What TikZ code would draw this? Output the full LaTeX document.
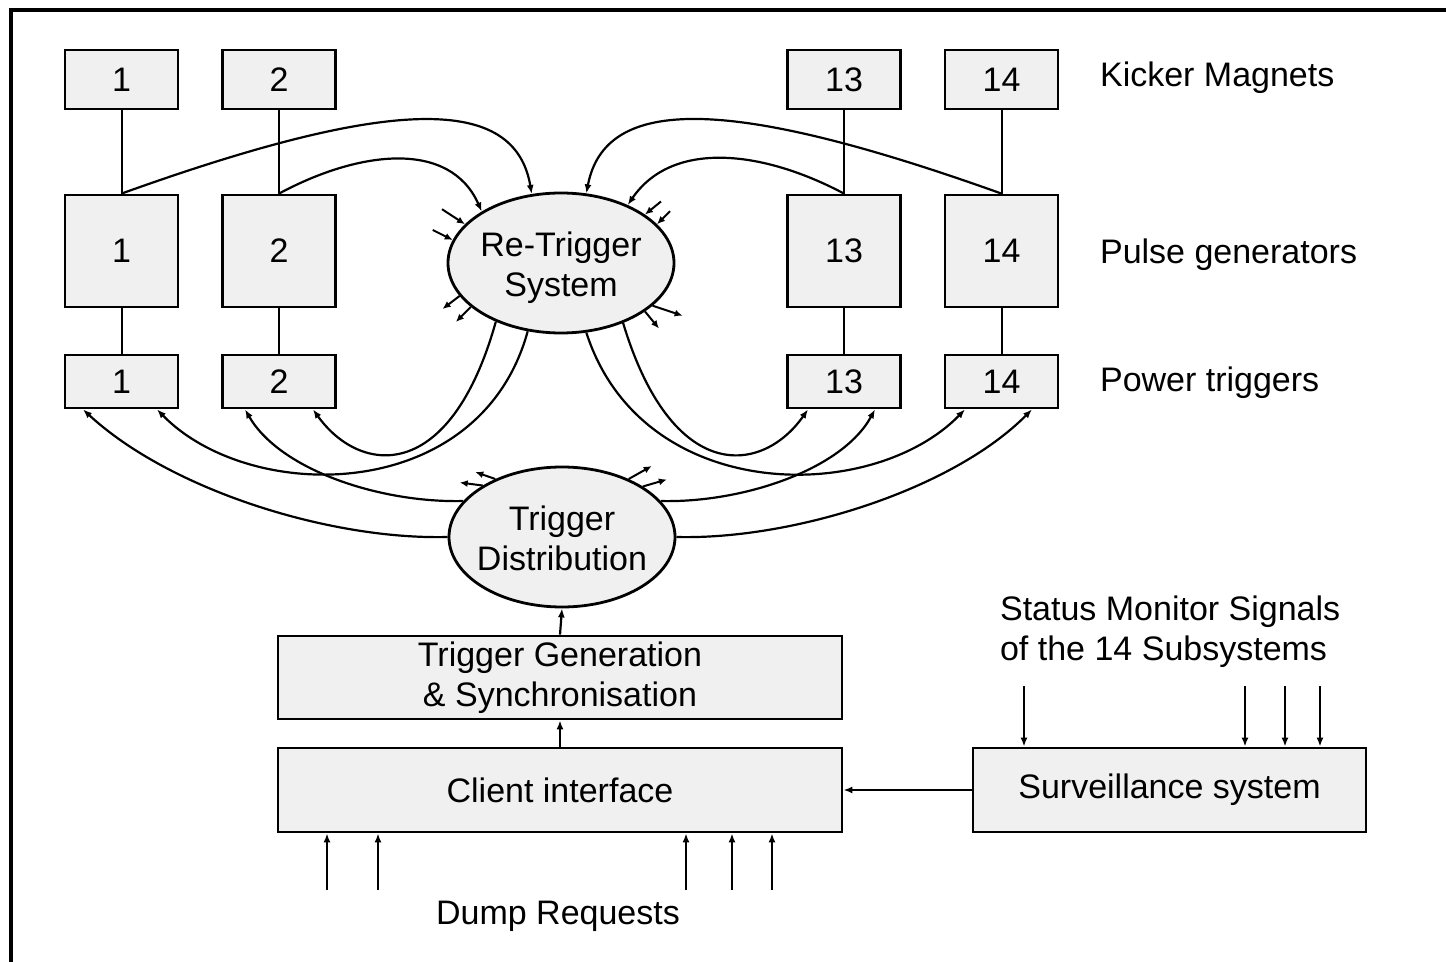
\documentclass[tikz,border=0pt]{standalone}
\usepackage{fontspec}
\setmainfont{Liberation Sans}
\usetikzlibrary{shapes.geometric,arrows.meta}
\definecolor{boxgray}{RGB}{240,240,240}
\begin{document}
\begin{tikzpicture}[x=0.5pt,y=-0.5pt,
  every node/.style={font=\fontsize{17pt}{20pt}\selectfont},
  blk/.style={draw,line width=1.4pt,fill=boxgray,inner sep=0pt,align=center},
  kmbox/.style={blk,minimum width=56.5pt,minimum height=29.5pt},
  pgbox/.style={blk,minimum width=56.5pt,minimum height=56pt},
  ptbox/.style={blk,minimum width=56.5pt,minimum height=26.5pt},
  oval/.style={draw,ellipse,line width=1.4pt,fill=boxgray,inner sep=0pt,
    minimum width=113pt,minimum height=70pt},
  link/.style={line width=1pt},
  sig/.style={line width=1.1pt,-{Latex[length=4.5pt,width=3.5pt]}},
  stub/.style={line width=1pt,-{Latex[length=4pt,width=3.5pt]}},
  lbl/.style={anchor=west}]
\useasboundingbox (0,0) rectangle (1446,962);

% open frame: left and top edges
\draw[line width=1.6pt] (11,962) -- (11,10) -- (1446,10);

% kicker magnets
\node[kmbox] (km1)  at (121.5,79.5)  {1};
\node[kmbox] (km2)  at (279,79.5)    {2};
\node[kmbox] (km13) at (844,79.5)    {13};
\node[kmbox] (km14) at (1001.5,79.5) {14};

% pulse generators
\node[pgbox] (pg1)  at (121.5,251)  {1};
\node[pgbox] (pg2)  at (279,251)    {2};
\node[pgbox] (pg13) at (844,251)    {13};
\node[pgbox] (pg14) at (1001.5,251) {14};

% power triggers
\node[ptbox] (pt1)  at (121.5,381.5)  {1};
\node[ptbox] (pt2)  at (279,381.5)    {2};
\node[ptbox] (pt13) at (844,381.5)    {13};
\node[ptbox] (pt14) at (1001.5,381.5) {14};

% row labels
\node[lbl] (lkm) at (1093,78)  {Kicker Magnets};
\node[lbl] (lpg) at (1093,255) {Pulse generators};
\node[lbl] (lpt) at (1093,383) {Power triggers};

% vertical links
\foreach \i in {1,2,13,14}{
  \draw[link] (km\i.south) -- (pg\i.north);
  \draw[link] (pg\i.south) -- (pt\i.north);
}

% central ellipses, with their captions set on top
\node[oval] (rt) at (561,263) {};
\node[align=center] (rttxt) at (561,268) {Re-Trigger\\System};
\node[oval] (td) at (562,537) {};
\node[align=center] (tdtxt) at (562,538) {Trigger\\Distribution};

% lower blocks
\node[blk,minimum width=282pt,minimum height=41.5pt] (tg) at (560,677.5)
  {Trigger Generation\\\& Synchronisation};
\node[blk,minimum width=282pt,minimum height=42pt] (ci) at (560,790)
  {Client interface};
\node[blk,minimum width=196.5pt,minimum height=42pt] (sv) at (1169.5,790)
  {Surveillance system};

\node[anchor=west,align=left] (smtxt) at (993,632)
  {Status Monitor Signals\\of the 14 Subsystems};
\node (dump) at (558,916) {Dump Requests};

% pulse generators -> re-trigger
\draw[sig] (pg1.north)  .. controls (393,96)  and (515,95)  .. (rt.113);
\draw[sig] (pg2.north)  .. controls (360,150) and (450,140) .. (rt.147);
\draw[sig] (pg14.north) .. controls (729,96)  and (605,95)  .. (rt.70);
\draw[sig] (pg13.north) .. controls (762,150) and (672,140) .. (rt.41);

% re-trigger -> power triggers
\draw[sig] (rt.-138) .. controls (450,485) and (360,475) .. ([xshift=17pt]pt2.south);
\draw[sig] (rt.-116) .. controls (480,505) and (250,505) .. ([xshift=17.75pt]pt1.south);
\draw[sig] (rt.-44)  .. controls (672,485) and (762,475) .. ([xshift=-18pt]pt13.south);
\draw[sig] (rt.-70)  .. controls (642,505) and (872,505) .. ([xshift=-18.25pt]pt14.south);

% trigger distribution -> power triggers
\draw[sig] (td.180) .. controls (330,540) and (170,490) .. ([xshift=-19.25pt]pt1.south);
\draw[sig] (td.160) .. controls (380,503) and (280,470) .. ([xshift=-17pt]pt2.south);
\draw[sig] (td.20)  .. controls (742,503) and (842,470) .. ([xshift=15.5pt]pt13.south);
\draw[sig] (td.0)   .. controls (792,540) and (952,490) .. ([xshift=15.25pt]pt14.south);

% short signal stubs around the re-trigger system
\draw[stub] ([shift={(-23,-15)}]rt.158) -- (rt.158);
\draw[stub] ([shift={(-20,-10)}]rt.168) -- (rt.168);
\draw[stub] ([shift={(16,-13)}]rt.30) -- (rt.30);
\draw[stub] ([shift={(13,-13)}]rt.22) -- (rt.22);
\draw[stub] (rt.-162) -- ([shift={(-17,13)}]rt.-162);
\draw[stub] (rt.-154) -- ([shift={(-15,15)}]rt.-154);
\draw[stub] (rt.-25) -- ([shift={(30,10)}]rt.-25);
\draw[stub] (rt.-30) -- ([shift={(14,17)}]rt.-30);

% short signal stubs around the trigger distribution
\draw[stub] (td.139) -- ([shift={(-20,-7)}]td.139);
\draw[stub] (td.147) -- ([shift={(-23,-3)}]td.147);
\draw[stub] (td.41)  -- ([shift={(23,-13)}]td.41);
\draw[stub] (td.32)  -- ([shift={(24,-7)}]td.32);

% chain between the lower blocks
\draw[sig] (tg.north) -- (td.south);
\draw[sig] (ci.north) -- (tg.south);
\draw[sig] (sv.west) -- (ci.east);

% status monitor inputs
\coordinate (s1) at (1024,686);
\coordinate (s2) at (1245,686);
\coordinate (s3) at (1285,686);
\coordinate (s4) at (1320,686);
\foreach \s in {s1,s2,s3,s4}
  \draw[sig] (\s) -- (\s |- sv.north);

% dump request inputs
\coordinate (d1) at (327,890);
\coordinate (d2) at (378,890);
\coordinate (d3) at (686,890);
\coordinate (d4) at (732,890);
\coordinate (d5) at (772,890);
\foreach \d in {d1,d2,d3,d4,d5}
  \draw[sig] (\d) -- (\d |- ci.south);
\end{tikzpicture}
\end{document}
